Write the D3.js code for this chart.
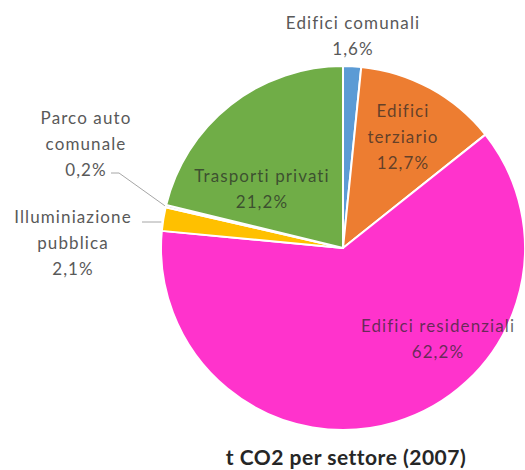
<!DOCTYPE html>
<html><head><meta charset="utf-8">
<script src="https://cdn.jsdelivr.net/npm/d3@7"></script>
<style>html,body{margin:0;padding:0;background:#fff;overflow:hidden}</style>
</head><body>
<svg id="c" width="525" height="470"></svg>
<script>
const categories = ["Edifici comunali","Edifici terziario","Edifici residenziali","Illuminiazione pubblica","Parco auto comunale","Trasporti privati"];
const values = [1.6, 12.7, 62.2, 2.1, 0.2, 21.2];
const valueLabels = ["1,6%","12,7%","62,2%","2,1%","0,2%","21,2%"];
const labelLines = [["Edifici comunali"],["Edifici","terziario"],["Edifici residenziali"],["Illuminiazione","pubblica"],["Parco auto","comunale"],["Trasporti privati"]];
const colors = ["#5B9BD5","#ED7D31","#FF33CC","#FFC000","#A5A5A5","#70AD47"];
const title = "t CO2 per settore (2007)";

const W = 525, H = 470, cx = 343, cy = 248, R = 182;
// label layout (center x, first line y), inside flag
const layout = [
  {x:353, y:23, inside:false},
  {x:403, y:111, inside:true},
  {x:438, y:326, inside:true},
  {x:73, y:217, inside:false},
  {x:86, y:118, inside:false},
  {x:262, y:176, inside:true}
];
const lineH = 26;

const svg = d3.select("#c");
const g = svg.append("g").attr("transform", `translate(${cx},${cy})`);
const pie = d3.pie().sort(null).value(d => d)(values);
const arc = d3.arc().innerRadius(0).outerRadius(R);

g.selectAll("path").data(pie).join("path")
  .attr("d", arc)
  .attr("fill", (d,i) => colors[i])
  .attr("stroke", "#fff").attr("stroke-width", 2).attr("stroke-linejoin","round");

const font = "Lato, 'Open Sans', sans-serif";
layout.forEach((L, i) => {
  const lines = labelLines[i].concat([valueLabels[i]]);
  const t = svg.append("text")
    .attr("text-anchor","middle")
    .attr("font-family", font)
    .attr("font-size", 17)
    .attr("letter-spacing", 1.1)
    .attr("fill", L.inside ? "#262626" : "#595959")
    .attr("fill-opacity", L.inside ? 0.7 : 1);
  lines.forEach((s, k) => {
    t.append("tspan").attr("x", L.x).attr("y", L.y + k*lineH).attr("dy","0.35em").text(s);
  });
});

// leader lines
function edgePoint(d, r){
  const a = (d.startAngle + d.endAngle)/2;
  return [cx + r*Math.sin(a), cy - r*Math.cos(a)];
}
const pParco = edgePoint(pie[4], R+1);
svg.append("polyline")
  .attr("points", [[111,173],[119,173],pParco].map(p=>p.join(",")).join(" "))
  .attr("fill","none").attr("stroke","#A6A6A6").attr("stroke-width",1);
const pIll = edgePoint(pie[3], R+1);
svg.append("polyline")
  .attr("points", [[142,222],[pIll[0]-1,222]].map(p=>p.join(",")).join(" "))
  .attr("fill","none").attr("stroke","#A6A6A6").attr("stroke-width",1);

svg.append("text")
  .attr("x", 346).attr("y", 458).attr("dy","0.35em")
  .attr("text-anchor","middle")
  .attr("font-family", font)
  .attr("font-weight","bold")
  .attr("font-size", 21)
  .attr("letter-spacing", 0.5)
  .attr("fill","#262626")
  .text(title);
</script>
</body></html>
